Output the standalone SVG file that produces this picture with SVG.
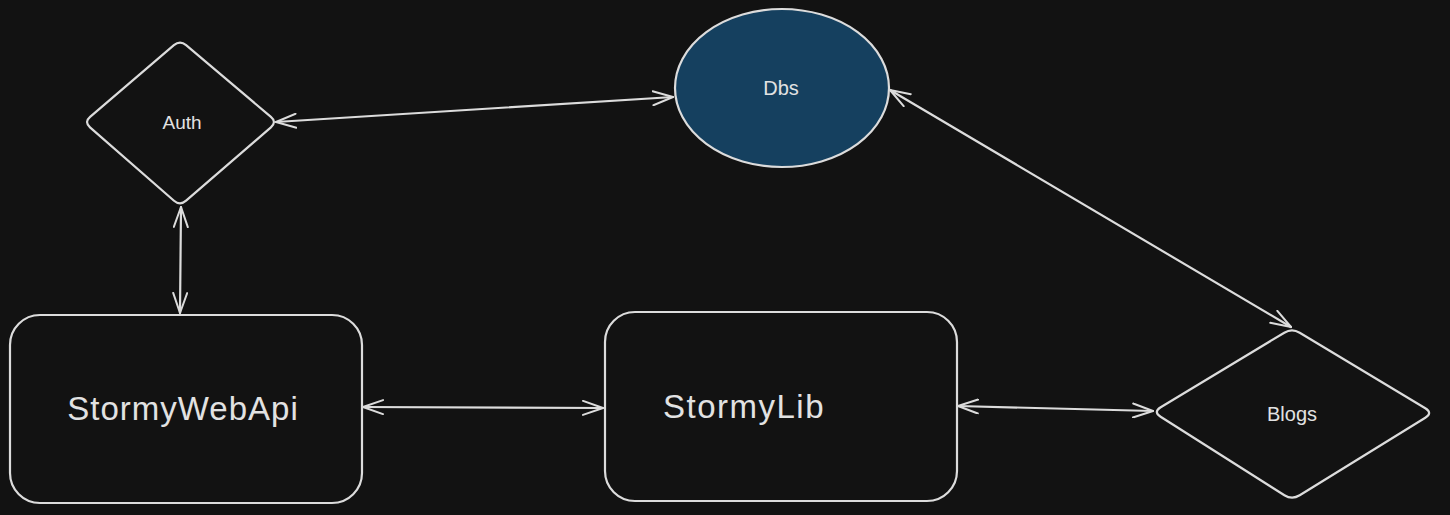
<svg xmlns="http://www.w3.org/2000/svg" width="1450" height="515" viewBox="0 0 1450 515">
  <style>
    .shape { fill: none; stroke: #dcdcdc; stroke-width: 2.2; stroke-linejoin: round; }
    .conn { fill: none; stroke: #dcdcdc; stroke-width: 2.2; stroke-linecap: round; }
    .lbl { fill: #e2e2e2; font-family: "Liberation Sans", Arial, sans-serif; }
  </style>
  <defs>
    <marker id="ah" viewBox="0 0 22 16" refX="21" refY="8" markerWidth="22" markerHeight="16" markerUnits="userSpaceOnUse" orient="auto-start-reverse">
      <path d="M1,1 L21,8 L1,15" fill="none" stroke="#dcdcdc" stroke-width="2" stroke-linecap="round" stroke-linejoin="round"/>
    </marker>
  </defs>
  <rect x="0" y="0" width="1450" height="515" fill="#121212"/>

  <g id="connectors">
    <line class="conn" x1="276" y1="122" x2="673" y2="97" marker-start="url(#ah)" marker-end="url(#ah)"/>
    <line class="conn" x1="181" y1="207" x2="180" y2="313" marker-start="url(#ah)" marker-end="url(#ah)"/>
    <line class="conn" x1="363" y1="407" x2="603" y2="408" marker-start="url(#ah)" marker-end="url(#ah)"/>
    <line class="conn" x1="958" y1="406" x2="1153" y2="411" marker-start="url(#ah)" marker-end="url(#ah)"/>
    <line class="conn" x1="890" y1="90" x2="1291" y2="327" marker-start="url(#ah)" marker-end="url(#ah)"/>
  </g>

  <g id="auth">
    <path class="shape" d="M186.1,45.1 L270.9,116.9 Q277,122 270.9,127.3 L186.1,200.7 Q180,206 174,200.7 L90,127.3 Q84,122 90.1,116.8 L173.9,45.2 Q180,40 186.1,45.1 Z"/>
    <text class="lbl" x="182" y="129" font-size="19" text-anchor="middle">Auth</text>
  </g>

  <g id="dbs">
    <ellipse cx="782" cy="88" rx="107" ry="79" fill="#15405f" stroke="#dcdcdc" stroke-width="2.2"/>
    <text class="lbl" x="781" y="95" font-size="20" text-anchor="middle">Dbs</text>
  </g>

  <g id="stormywebapi">
    <rect class="shape" x="10" y="315" width="352" height="188" rx="30" ry="30"/>
    <text class="lbl" x="183" y="420" font-size="33" text-anchor="middle" letter-spacing="1">StormyWebApi</text>
  </g>

  <g id="stormylib">
    <rect class="shape" x="605" y="312" width="352" height="189" rx="30" ry="30"/>
    <text class="lbl" x="663" y="418" font-size="33" letter-spacing="1.5">StormyLib</text>
  </g>

  <g id="blogs">
    <path class="shape" d="M1299.7,332.7 L1425.3,408.3 Q1433,413 1425.3,417.7 L1299.7,495.3 Q1292,500 1284.4,495.2 L1160.6,416.8 Q1153,412 1160.7,407.3 L1284.3,332.7 Q1292,328 1299.7,332.7 Z"/>
    <text class="lbl" x="1292" y="421" font-size="20" text-anchor="middle">Blogs</text>
  </g>
</svg>
